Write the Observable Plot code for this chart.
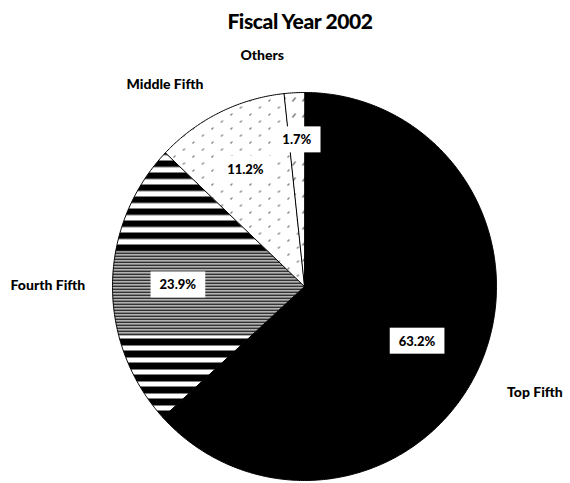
<!DOCTYPE html>
<html><head><meta charset="utf-8">
<script src="https://cdn.jsdelivr.net/npm/d3@7"></script>
<script src="https://cdn.jsdelivr.net/npm/@observablehq/plot@0.6"></script>
<style>
body{margin:0;background:#fff;font-family:Lato,"Open Sans",sans-serif;}
#title{height:40px;width:570px;text-align:center;font-weight:900;font-size:21px;line-height:42px;padding-left:30px;box-sizing:border-box;color:#000;letter-spacing:-0.4px;}
#chart svg{display:block;}
</style></head><body>
<svg width="0" height="0" style="position:absolute"><defs id="defs"></defs></svg>
<div id="title">Fiscal Year 2002</div>
<div id="chart"></div>
<script>
// ---- data ----
const categories = ["Top Fifth", "Fourth Fifth", "Middle Fifth", "Others"];
const shares = [63.2, 23.9, 11.2, 1.7];
const shareLabels = ["63.2%", "23.9%", "11.2%", "1.7%"];

// ---- patterns (styling) ----
const NS = "http://www.w3.org/2000/svg";
const defs = document.getElementById("defs");
function el(tag, attrs, parent) {
  const e = document.createElementNS(NS, tag);
  for (const k in attrs) e.setAttribute(k, attrs[k]);
  if (parent) parent.appendChild(e);
  return e;
}
// horizontal stripes: thick bands, a dense fine band in the middle, thick again
const stripes = el("pattern", {id: "stripes", patternUnits: "userSpaceOnUse", width: 570, height: 443}, defs);
el("rect", {width: 570, height: 443, fill: "white"}, stripes);
const off = 40; // title height above svg
for (let y = 148; y < 246; y += 12) el("rect", {x: 0, y: y - off, width: 570, height: 6.5, fill: "black"}, stripes);
for (let y = 246; y < 336; y += 3) el("rect", {x: 0, y: y - off, width: 570, height: 1.6, fill: "black"}, stripes);
for (let y = 338; y < 440; y += 12) el("rect", {x: 0, y: y - off, width: 570, height: 7, fill: "black"}, stripes);
// sparse short diagonal dashes
const dots = el("pattern", {id: "dots", patternUnits: "userSpaceOnUse", width: 19, height: 14}, defs);
el("rect", {width: 19, height: 14, fill: "white"}, dots);
el("path", {d: "M2 5 l1.8 -1.8 M11.5 12 l1.8 -1.8", stroke: "black", "stroke-width": 1}, dots);
// sparse diagonal dashes
const dashes = el("pattern", {id: "dashes", patternUnits: "userSpaceOnUse", width: 10, height: 16}, defs);
el("rect", {width: 10, height: 16, fill: "white"}, dashes);
el("path", {d: "M2 13 l3 -4", stroke: "black", "stroke-width": 1}, dashes);

// ---- geometry from data ----
const arcs = d3.pie().sort(null).value(d => d)(shares);
const pts = [];
arcs.forEach((a, i) => {
  pts.push({name: categories[i], x: 0, y: 0});
  const n = Math.max(2, Math.ceil((a.endAngle - a.startAngle) / 0.01));
  for (let k = 0; k <= n; k++) {
    const t = a.startAngle + (a.endAngle - a.startAngle) * k / n;
    pts.push({name: categories[i], x: Math.sin(t), y: Math.cos(t)});
  }
});
const mid = arcs.map(a => (a.startAngle + a.endAngle) / 2);

const W = 570, H = 443, cx = 304, cy = 246, rx = 192, ry = 194;
const outerNudge = [[2, 4], [-7, 1], [-29, 24], [-29, 21]];
const innerR = [0.64, 0.66, 0.66, 0.75];
const innerNudge = [[0, 5], [0, 0], [-3, -2], [0, -1]];

const outerMarks = categories.map((c, i) => Plot.text([c], {
  x: () => 1.3 * Math.sin(mid[i]), y: () => 1.3 * Math.cos(mid[i]), text: d => d,
  dx: outerNudge[i][0], dy: outerNudge[i][1],
  fontSize: 14, fontWeight: 900, fill: "black", textAnchor: "middle", letterSpacing: "-0.4px"
}));
const innerMarks = shareLabels.map((s, i) => Plot.text([s], {
  x: () => innerR[i] * Math.sin(mid[i]), y: () => innerR[i] * Math.cos(mid[i]), text: d => d,
  dx: innerNudge[i][0], dy: innerNudge[i][1],
  fontSize: 13, fontWeight: 900, fill: "black", textAnchor: "middle", letterSpacing: "-0.6px",
  className: "pct"
}));

const chart = Plot.plot({
  width: W, height: H, margin: 0,
  style: {background: "white", fontFamily: "Lato, 'Open Sans', sans-serif"},
  x: {domain: [-cx / rx, (W - cx) / rx], axis: null},
  y: {domain: [-(H - cy) / ry, cy / ry], axis: null},
  color: {domain: categories, range: ["black", "url(#stripes)", "url(#dots)", "url(#dashes)"]},
  marks: [
    Plot.line(pts, {x: "x", y: "y", z: "name", fill: "name", stroke: "black", strokeWidth: 1, curve: "linear-closed"}),
    ...outerMarks,
    ...innerMarks
  ]
});
document.getElementById("chart").appendChild(chart);

// white boxes behind percentage labels
chart.querySelectorAll("g.pct text").forEach(t => {
  const b = t.getBBox();
  const r = document.createElementNS(NS, "rect");
  r.setAttribute("x", b.x - 9); r.setAttribute("y", b.y - 5);
  r.setAttribute("width", b.width + 18); r.setAttribute("height", b.height + 10);
  r.setAttribute("fill", "white");
  const tr = t.getAttribute("transform");
  if (tr) r.setAttribute("transform", tr);
  t.parentNode.insertBefore(r, t);
});
</script>
</body></html>
